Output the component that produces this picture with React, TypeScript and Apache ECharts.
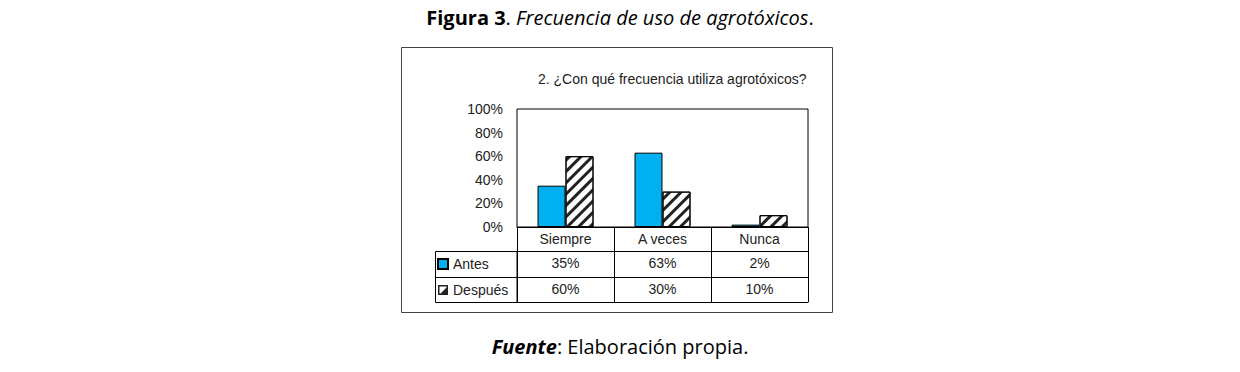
import { useEffect, useRef } from "react";
import * as echarts from "echarts";

const categories = ["Siempre", "A veces", "Nunca"];
const seriesNames = ["Antes", "Después"];
const antes = [35, 63, 2];
const despues = [60, 30, 10];
const chartTitle = "2. ¿Con qué frecuencia utiliza agrotóxicos?";
const captionBold = "Figura 3";
const captionItalic = "Frecuencia de uso de agrotóxicos";
const sourceLabel = "Fuente";
const sourceText = ": Elaboración propia.";

const NARROW = "'Liberation Sans', Arial, sans-serif";
const CAL = "'Open Sans', 'Noto Sans', sans-serif";
const FS = 14;
const CFS = 20;
const pct = (v: number) => `${v}%`;

export default function App() {
  const ref = useRef<HTMLDivElement>(null);
  useEffect(() => {
    if (!ref.current) return;
    const chart = echarts.init(ref.current, undefined, { renderer: "svg" });
    const gridLeft = 517, gridTop = 109, gridW = 291, gridH = 118;
    const bottom = gridTop + gridH;
    const row = [24, 50, 75];
    const tableLeft = 436;
    const labelStyle = { fontFamily: NARROW, fontSize: FS, color: "#222", margin: 5 };
    chart.setOption({
      animation: false,
      backgroundColor: "#fff",
      title: [
        {
          left: "center",
          top: 2,
          text: `{b|${captionBold}}{n|. }{i|${captionItalic}}{n|.}`,
          textStyle: {
            fontFamily: CAL,
            fontSize: CFS,
            fontWeight: "normal",
            color: "#000",
            rich: {
              b: { fontFamily: CAL, fontSize: CFS, fontWeight: "bold", color: "#000" },
              n: { fontFamily: CAL, fontSize: CFS, fontWeight: "normal", color: "#000" },
              i: { fontFamily: CAL, fontSize: CFS, fontWeight: "normal", fontStyle: "italic", color: "#000" },
            },
          },
        },
        {
          left: 533,
          top: 67,
          text: chartTitle,
          textStyle: { fontFamily: NARROW, fontSize: FS, fontWeight: "normal", color: "#222" },
        },
        {
          left: "center",
          top: 331,
          text: `{b|${sourceLabel}}{n|${sourceText}}`,
          textStyle: {
            fontFamily: CAL,
            fontSize: CFS,
            fontWeight: "normal",
            color: "#000",
            rich: {
              b: { fontFamily: CAL, fontSize: CFS, fontWeight: "bold", fontStyle: "italic", color: "#000" },
              n: { fontFamily: CAL, fontSize: CFS, fontWeight: "normal", color: "#000" },
            },
          },
        },
      ],
      legend: {
        data: [
          { name: seriesNames[0] },
          {
            name: seriesNames[1],
            icon: "path://M0,0H10V10H0Z M1.5,1.5V8.5H8.5V1.5Z M2.5,8.5L8.5,8.5L8.5,2.5Z",
            itemStyle: { color: "#222", borderWidth: 0, decal: "none" },
          },
        ],
        orient: "vertical",
        left: tableLeft + 1,
        top: 256,
        itemWidth: 10,
        itemHeight: 10,
        itemGap: 10,
        padding: 0,
        icon: "rect",
        selectedMode: false,
        textStyle: { fontFamily: NARROW, fontSize: FS, lineHeight: 16, color: "#222" },
      },
      grid: {
        left: gridLeft,
        top: gridTop,
        width: gridW,
        height: gridH,
        show: true,
        borderColor: "#000",
        borderWidth: 1,
        containLabel: false,
      },
      xAxis: [
        {
          type: "category",
          data: categories,
          position: "bottom",
          axisLine: { show: true, lineStyle: { color: "#000", width: 1 } },
          axisTick: { show: true, interval: 0, length: row[2], lineStyle: { color: "#000", width: 1 } },
          axisLabel: { ...labelStyle, interval: 0 },
        },
        {
          type: "category",
          data: antes.map(pct),
          position: "bottom",
          offset: row[0],
          axisLine: { show: true, lineStyle: { color: "#000", width: 1 } },
          axisTick: { show: false },
          axisLabel: { ...labelStyle, interval: 0 },
        },
        {
          type: "category",
          data: despues.map(pct),
          position: "bottom",
          offset: row[1],
          axisLine: { show: true, lineStyle: { color: "#000", width: 1 } },
          axisTick: { show: false },
          axisLabel: { ...labelStyle, interval: 0 },
        },
        {
          type: "category",
          data: categories,
          position: "bottom",
          offset: row[2],
          axisLine: { show: true, lineStyle: { color: "#000", width: 1 } },
          axisTick: { show: false },
          axisLabel: { show: false },
        },
      ],
      yAxis: {
        type: "value",
        min: 0,
        max: 100,
        interval: 20,
        axisLine: { show: false },
        axisTick: { show: false },
        splitLine: { show: false },
        axisLabel: { formatter: "{value}%", fontFamily: NARROW, fontSize: FS, color: "#222", margin: 14 },
      },
      series: [
        {
          name: seriesNames[0],
          type: "bar",
          data: antes,
          barWidth: 28,
          barGap: "0%",
          itemStyle: { color: "#00B0F0", borderColor: "#000", borderWidth: 1 },
        },
        {
          name: seriesNames[1],
          type: "bar",
          data: despues,
          barWidth: 28,
          barGap: "0%",
          itemStyle: {
            color: "#fff",
            borderColor: "#000",
            borderWidth: 1,
            decal: {
              symbol: "rect",
              symbolSize: 1,
              color: "#222",
              dashArrayX: [1, 0],
              dashArrayY: [3, 5],
              rotation: -Math.PI / 4,
            },
          },
        },
      ],
      graphic: [
        {
          type: "rect",
          shape: { x: 401.5, y: 47.5, width: 431, height: 265 },
          style: { fill: "none", stroke: "#444", lineWidth: 1 },
          silent: true,
        },
        {
          type: "rect",
          shape: { x: tableLeft - 0.5, y: bottom + row[0] + 0.5, width: gridLeft - tableLeft + 0.5, height: row[2] - row[0] },
          style: { fill: "none", stroke: "#000", lineWidth: 1 },
          silent: true,
        },
        {
          type: "line",
          shape: { x1: tableLeft - 0.5, y1: bottom + row[1] + 0.5, x2: gridLeft, y2: bottom + row[1] + 0.5 },
          style: { stroke: "#000", lineWidth: 1 },
          silent: true,
        },
      ],
    });
    return () => chart.dispose();
  }, []);
  return <div ref={ref} style={{ position: "absolute", left: 0, top: 0, width: 1240, height: 372 }} />;
}
